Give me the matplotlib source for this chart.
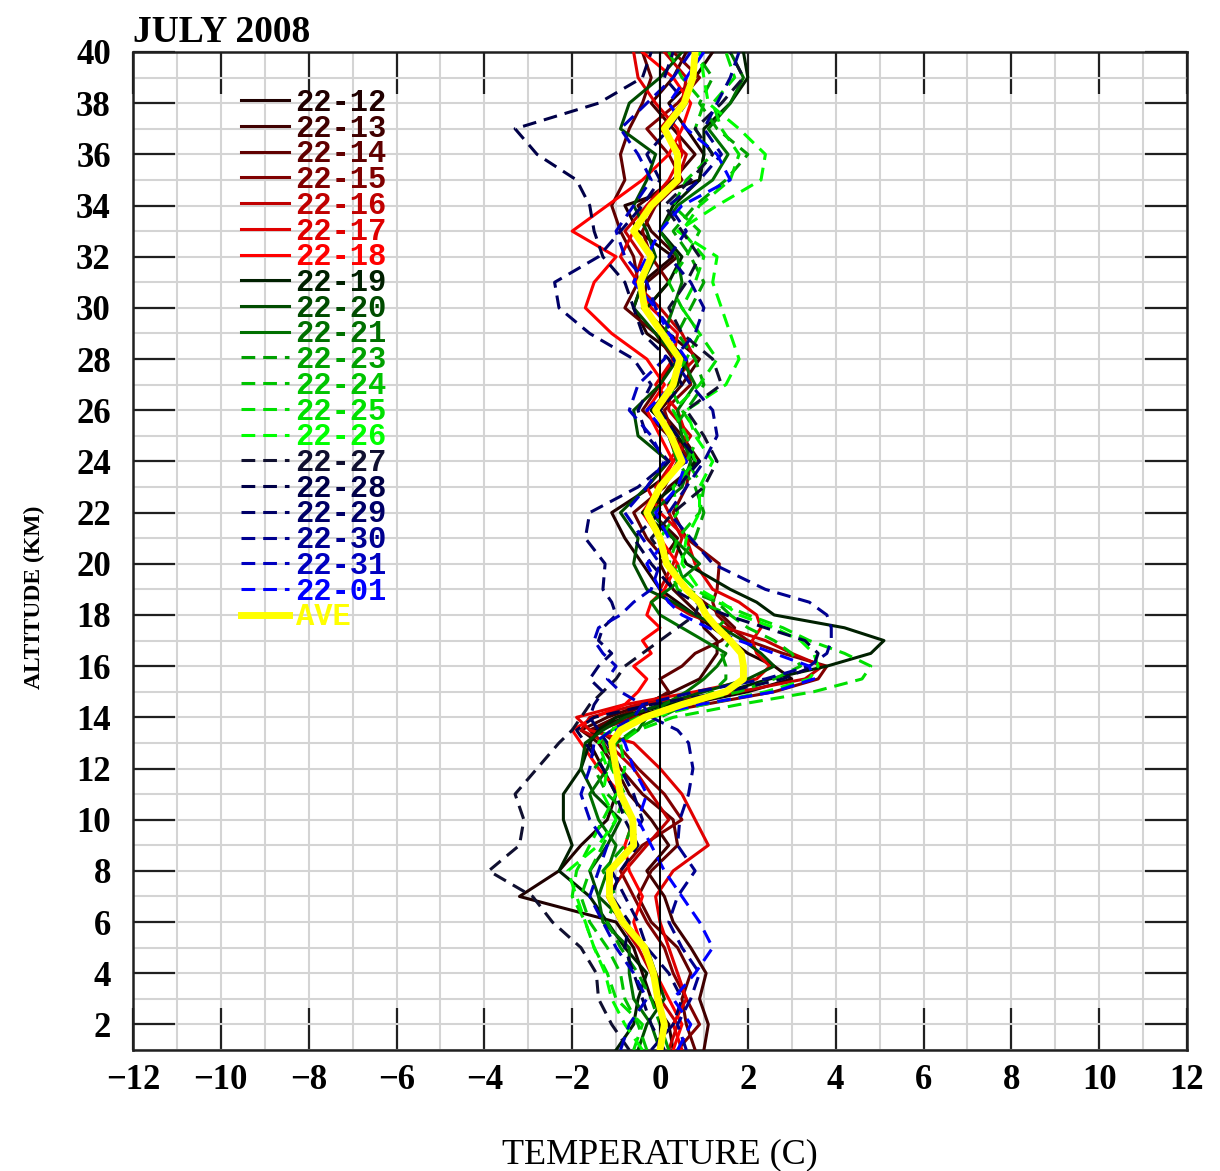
import matplotlib
matplotlib.use("Agg")
import matplotlib.pyplot as plt
from matplotlib.ticker import MultipleLocator

# Altitude levels (km) shared by every profile
alt_km = [1, 2, 3, 4, 5, 6, 7, 8, 9, 10, 11, 12, 13,
          13.5, 14, 14.5, 15, 15.5, 16, 16.5, 17, 17.5, 18, 18.5, 19,
          20, 21, 22, 23, 24, 25, 26, 27, 28, 29, 30,
          31, 32, 33, 34, 35, 36, 37, 38, 39, 40]

# Temperature (C) of each sounding at the levels above
t_22_12 = [0.3, 0.2, -0.2, -0.4, -0.6, -1.0, -3.2, -2.3, -1.8, -1.2, -1.0, -1.3, -1.6,
           -1.5, -0.8, 0.6, 2.0, 3.0, 2.6, 2.0, 1.6, 1.2, 0.8, 0.4, 0.0,
           -0.4, -0.8, -1.1, -0.2, 0.6, 0.4, -0.2, 0.3, 0.5, -0.3, -0.6,
           -0.4, 0.3, -0.5, -0.8, 0.9, 1.0, 0.6, 0.2, 0.8, 1.2]
t_22_13 = [1.0, 1.1, 0.9, 1.05, 0.7, 0.3, 0.1, -0.3, 0.2, -0.2, -0.7, -1.0, -1.4,
           -1.8, -1.2, -0.4, 0.3, 0.9, 1.1, 1.3, 1.3, 1.0, 0.9, 0.6, 0.3,
           0.0, 0.4, -0.2, 0.2, 0.9, 0.5, 0.0, 0.5, 0.9, 0.2, -0.4,
           -0.3, 0.4, -0.2, -0.5, 0.3, 0.8, 0.3, -0.2, 0.3, 0.6]
t_22_14 = [0.8, 0.6, 0.5, 0.7, 0.4, -0.2, -0.5, -0.2, 0.4, 0.3, -0.4, -0.9, -1.3,
           -1.6, -1.0, -0.3, 0.2, 0.0, 0.5, 0.8, 1.4, 1.7, 1.4, 1.0, 0.6,
           0.2, -0.3, -0.6, 0.1, 0.4, 0.2, -0.4, 0.0, 0.3, -0.1, -0.8,
           -0.5, -0.6, -0.9, -1.1, -0.8, -0.9, -0.7, -0.4, -0.2, -0.4]
t_22_15 = [0.4, 0.9, 0.6, 0.3, 0.1, -0.3, -0.6, -0.9, -0.4, 0.5, 0.1, -0.5, -1.0,
           -1.4, -0.6, 1.0, 2.6, 3.6, 3.8, 2.8, 2.0, 1.6, 1.3, 1.2, 1.3,
           1.35, 0.6, 0.3, 0.6, 0.7, 0.3, 0.1, 0.7, 0.6, 0.0, -0.3,
           0.2, -0.2, -0.4, -0.1, 0.5, 0.2, -0.3, 0.4, 0.9, 0.3]
t_22_16 = [0.2, 0.4, 0.0, -0.2, -0.5, -0.9, -1.2, -0.8, -0.3, 0.2, -0.2, -0.6, -1.2,
           -1.8, -1.6, -0.5, 1.8, 3.3, 3.7, 3.0, 2.4, 1.5, 0.7, 0.2, 0.0,
           0.3, 0.5, 0.2, -0.1, 0.3, 0.7, 0.2, 0.2, 0.8, 0.5, 0.0,
           -0.6, -0.4, -0.8, -0.3, 0.4, 0.6, 0.0, 0.5, 0.6, 0.1]
t_22_17 = [0.5, 0.3, 0.6, 0.4, 0.2, 0.0, -0.1, 0.3, 1.1, 0.8, 0.5, 0.0, -0.6,
           -1.6, -1.9, -0.8, 0.8, 2.2, 2.5, 2.2, 2.1, 2.3, 2.2, 1.8, 1.2,
           0.8, 0.6, 0.0, -0.3, 0.2, 0.6, 0.4, -0.1, 0.3, 0.4, -0.2,
           -0.5, -0.9, -0.6, -0.3, 0.2, 0.5, 0.4, -0.1, -0.5, -0.6]
t_22_18 = [0.3, 0.5, 0.2, -0.1, -0.4, -0.6, -0.4, -0.7, -0.8, -0.6, -0.9, -1.4, -1.8,
           -2.0, -1.5, -0.8, -0.5, -0.3, -0.6, -0.2, -0.4, 0.0, -0.3, -0.2, 0.1,
           0.4, 0.0, -0.4, 0.0, 0.3, 0.0, -0.3, 0.1, -0.3, -1.1, -1.7,
           -1.5, -1.0, -2.0, -1.2, -0.4, 0.2, 0.5, 0.7, 0.3, -0.4]
t_22_19 = [-1.0, -0.6, -0.5, -0.3, -0.8, -1.2, -1.6, -2.3, -2.0, -2.2, -2.2, -1.8, -1.6,
           -1.4, -1.0, 0.2, 1.5, 2.5, 3.8, 4.8, 5.1, 4.2, 2.6, 2.2, 1.6,
           0.6, 0.3, -0.4, 0.3, 0.8, 0.4, -0.2, 0.4, 0.6, 0.0, -0.3,
           0.2, 0.5, 0.0, 0.3, 0.9, 1.0, 1.0, 1.6, 2.0, 1.9]
t_22_20 = [-0.5, -0.3, 0.1, -0.1, -0.3, -0.8, -1.4, -1.6, -1.2, -0.9, -1.5, -1.8, -1.7,
           -1.3, -0.8, 0.0, 1.0, 2.0, 2.6, 2.3, 1.9, 1.4, 0.8, 0.3, -0.3,
           -0.6, -0.5, -0.9, -0.3, 0.2, -0.5, -0.6, 0.0, 0.4, -0.1, -0.6,
           -0.4, -0.1, -0.3, -0.6, -0.3, -0.1, -0.9, -0.7, 0.0, 0.5]
t_22_21 = [0.0, -0.2, -0.6, -0.7, -0.7, -1.3, -1.4, -1.2, -1.0, -1.4, -1.6, -1.2, -1.0,
           -0.5, -0.3, 0.1, 0.6, 1.0, 1.3, 1.5, 1.0, 0.5, 0.0, -0.2, 0.2,
           0.9, 0.3, -0.2, 0.5, 0.7, 0.5, 0.4, 0.8, 0.5, 0.1, 0.3,
           0.5, 0.4, 0.0, 0.4, 1.2, 1.55, 1.1, 1.6, 1.9, 1.6]
t_22_23 = [0.2, 0.0, -0.2, -0.5, -0.9, -1.2, -1.0, -1.3, -0.8, -0.6, -1.2, -1.5, -1.0,
           -0.6, 0.0, 0.6, 1.2, 1.5, 1.5, 1.4, 1.6, 1.3, 1.6, 1.3, 0.6,
           0.4, 0.8, 1.0, 0.8, 0.4, 0.2, 0.6, 1.0, 0.8, 0.4, 0.7,
           1.0, 0.7, 0.3, 0.8, 1.5, 2.0, 1.3, 0.9, 1.2, 0.8]
t_22_24 = [-0.3, -0.5, -0.8, -0.9, -1.2, -1.6, -1.8, -1.6, -1.3, -1.0, -0.8, -1.1, -1.3,
           -1.1, -0.5, 0.5, 1.8, 2.6, 3.2, 3.0, 2.6, 2.0, 1.6, 0.9, 0.4,
           0.2, 0.4, 0.9, 1.0, 0.6, 0.9, 0.5, 0.2, 0.6, 0.9, 0.5,
           0.2, 0.6, 0.9, 0.3, 0.6, 1.2, 0.8, 1.0, 0.5, 0.2]
t_22_25 = [-0.6, -0.4, -1.0, -1.2, -1.5, -1.7, -2.0, -1.9, -1.6, -1.3, -1.0, -0.8, -0.9,
           -0.5, 0.3, 1.8, 3.5, 4.6, 4.8, 4.2, 3.4, 2.8, 2.0, 1.3, 0.8,
           0.2, 0.0, 0.4, 0.3, 0.8, 0.6, 0.3, 0.9, 1.3, 0.9, 0.5,
           0.8, 1.0, 0.5, 0.9, 1.6, 1.8, 1.4, 1.2, 1.7, 1.5]
t_22_26 = [-0.4, -0.8, -1.1, -1.25, -1.5, -1.7, -1.9, -2.1, -1.4, -1.0, -1.3, -1.2, -1.4,
           -1.2, -0.2, 1.0, 2.4, 3.4, 3.6, 3.5, 3.2, 2.6, 1.8, 1.4, 0.9,
           0.5, 0.6, 0.9, 0.9, 1.2, 0.8, 0.6, 1.5, 1.8, 1.6, 1.4,
           1.2, 1.3, 0.4, 1.3, 2.3, 2.4, 1.8, 1.1, 1.0, 0.9]
t_22_27 = [-0.7, -1.1, -1.4, -1.45, -1.8, -2.45, -2.9, -3.9, -3.2, -3.1, -3.3, -2.8, -2.3,
           -2.0, -1.8, -1.6, -1.3, -1.0, -0.8, -0.4, 0.0, 0.4, 0.8, 0.9, 0.6,
           0.2, -0.2, 0.3, 1.0, 1.3, 1.0, 0.6, 1.4, 1.2, 0.5, 0.2,
           0.6, 0.9, 0.5, 0.1, 0.7, 1.2, 0.8, 1.4, 1.9, 1.6]
t_22_28 = [0.1, -0.2, -0.4, -0.6, -0.8, -0.7, -1.1, -0.9, -0.5, -0.8, -1.0, -1.3, -1.7,
           -1.9, -1.5, -0.2, 1.5, 2.8, 3.5, 3.6, 3.3, 2.4, 1.5, 0.8, 0.3,
           -0.2, -0.6, 0.0, 0.4, 0.9, 0.4, 0.0, 0.5, 0.2, -0.4, -0.6,
           -0.8, -1.3, -1.5, -1.6, -1.9, -2.8, -3.3, -1.4, -0.4, -0.2]
t_22_29 = [-0.2, 0.3, 0.5, 0.2, -0.3, -0.5, -0.8, -1.1, -0.7, -0.4, -0.6, -0.9, -1.2,
           -1.4, -1.6, -1.5, -1.3, -1.6, -1.4, -1.1, -1.4, -1.3, -1.0, -1.1, -1.3,
           -1.25, -1.7, -1.6, -0.5, 0.2, -0.3, -0.5, -0.2, -0.6, -1.6, -2.3,
           -2.4, -1.4, -0.9, -0.4, 0.0, -0.3, 0.2, 0.6, 0.1, 0.3]
t_22_30 = [0.6, 0.4, 0.7, 0.9, 0.5, 0.2, 0.4, 0.8, 0.4, 0.45, 0.65, 0.75, 0.65,
           0.4, -0.2, -0.4, 0.8, 2.4, 3.4, 3.8, 3.9, 3.9, 3.8, 3.4, 2.4,
           1.2, 0.7, 0.2, 0.6, 1.0, 1.3, 1.2, 0.7, 0.3, 0.8, 1.0,
           0.7, 0.2, 0.6, 0.2, 0.9, 1.4, 1.0, 1.3, 1.6, 1.8]
t_22_31 = [-0.9, -0.7, -0.3, -0.6, -1.0, -1.3, -1.6, -1.4, -1.2, -1.6, -1.8, -1.6, -1.5,
           -1.1, -0.6, -0.4, -0.9, -1.2, -1.0, -1.3, -1.5, -1.4, -0.9, -0.6, -0.2,
           0.0, -0.4, -0.8, -0.3, 0.1, -0.2, -0.7, -0.5, 0.1, 0.3, -0.1,
           -0.3, -0.8, -1.0, -0.6, -0.2, -0.5, -0.9, -0.3, 0.3, 0.7]
t_22_01 = [0.4, 0.7, 0.3, 0.8, 1.2, 0.9, 0.5, 0.1, -0.2, -0.5, -0.3, -0.6, -0.8,
           -1.0, -0.4, 0.9, 2.6, 3.5, 3.4, 2.6, 1.8, 1.1, 0.5, 0.2, 0.0,
           -0.3, 0.2, -0.1, 0.4, 0.6, 0.2, -0.3, 0.3, 0.6, 0.2, -0.1,
           -0.6, -0.3, 0.0, 0.5, 1.6, 1.3, 0.6, 0.2, 0.6, 1.0]
t_ave = [0.0, 0.1, -0.05, -0.15, -0.35, -0.85, -1.15, -1.15, -0.6, -0.62, -0.9, -1.0, -1.1,
         -0.9, -0.35, 0.5, 1.5, 1.9, 1.9, 1.85, 1.6, 1.3, 1.05, 0.9, 0.6,
         0.15, 0.0, -0.3, 0.0, 0.5, 0.25, -0.1, 0.3, 0.45, 0.05, -0.35,
         -0.45, -0.2, -0.6, -0.2, 0.4, 0.4, 0.1, 0.55, 0.75, 0.8]

series_labels = ["22-12", "22-13", "22-14", "22-15", "22-16", "22-17", "22-18",
                 "22-19", "22-20", "22-21",
                 "22-23", "22-24", "22-25", "22-26",
                 "22-27", "22-28", "22-29", "22-30", "22-31", "22-01"]
series_values = [t_22_12, t_22_13, t_22_14, t_22_15, t_22_16, t_22_17, t_22_18,
                 t_22_19, t_22_20, t_22_21,
                 t_22_23, t_22_24, t_22_25, t_22_26,
                 t_22_27, t_22_28, t_22_29, t_22_30, t_22_31, t_22_01]
series_colors = ["#200000", "#400000", "#600000", "#800000", "#c00000", "#e00000", "#ff0000",
                 "#002000", "#004c00", "#007000",
                 "#00a000", "#00c400", "#00e000", "#00ff00",
                 "#101030", "#000048", "#000068", "#000090", "#0000c0", "#0000ff"]
dashed = [False] * 10 + [True] * 10

x_ticks = list(range(-12, 13, 2))
y_ticks = list(range(2, 41, 2))

W, H = 1220, 1171
fig = plt.figure(figsize=(W / 100, H / 100), dpi=100)
ax = fig.add_axes([133 / W, 1 - 1050 / H, 1054 / W, 998 / H])

handles = []
for vals, lab, col, dsh in zip(series_values, series_labels, series_colors, dashed):
    ls = (0, (4.5, 2.6)) if dsh else "-"
    ln, = ax.plot(vals, alt_km, color=col, lw=2.2, ls=ls, label=lab, zorder=3)
    handles.append(ln)

ax.axvline(0, color="black", lw=1.4, zorder=4)
ln_ave, = ax.plot(t_ave, alt_km, color="#ffff00", lw=5.0, label="AVE", zorder=5)
handles.append(ln_ave)

ax.set_xlim(-12, 12)
ax.set_ylim(1, 40)
ax.set_xticks(x_ticks)
ax.set_yticks(y_ticks)
ax.xaxis.set_minor_locator(MultipleLocator(1))
ax.yaxis.set_minor_locator(MultipleLocator(1))
ax.grid(which="both", color="#d4d4d4", lw=1.5, zorder=0)
ax.set_axisbelow(True)

ax.tick_params(which="major", direction="in", length=30, width=1.6, color="#202020",
               top=True, right=True, labelsize=25)
ax.tick_params(which="minor", length=0)
ax.tick_params(axis="y", pad=16)
ax.tick_params(axis="x", pad=10)
for lbl in ax.get_xticklabels() + ax.get_yticklabels():
    lbl.set_fontfamily("Liberation Serif")
    lbl.set_fontweight("bold")
for sp in ax.spines.values():
    sp.set_linewidth(1.8)
    sp.set_color("#202020")

ax.set_xlabel("TEMPERATURE (C)", family="Liberation Serif", size=26, labelpad=30)
ax.set_ylabel("ALTITUDE (KM)", family="Liberation Serif", size=17, weight="bold")
ax.yaxis.set_label_coords(-0.083, 0.454)
ax.set_title("JULY 2008", loc="left", family="Liberation Serif", weight="bold",
             size=27, pad=7)

leg = ax.legend(handles=handles, loc="upper left", bbox_to_anchor=(0.102, 0.964),
                frameon=False, prop=dict(family="Liberation Mono", weight="bold", size=22),
                handlelength=1.6, handletextpad=0.2,
                labelspacing=-0.14, borderpad=0, borderaxespad=0)
for t, col in zip(leg.get_texts(), series_colors + ["#ffff00"]):
    t.set_color(col)

fig.savefig("out.png", dpi=100)
